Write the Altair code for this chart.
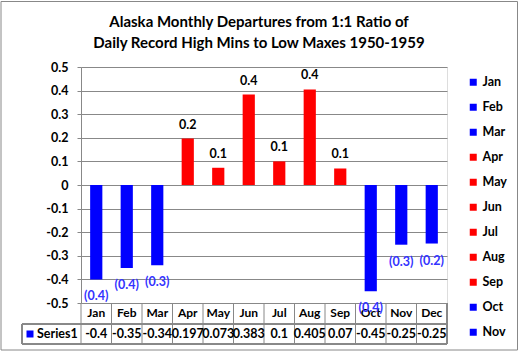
import altair as alt
import pandas as pd

months = ["Jan", "Feb", "Mar", "Apr", "May", "Jun", "Jul", "Aug", "Sep", "Oct", "Nov", "Dec"]
values = [-0.4, -0.352, -0.34, 0.197, 0.073, 0.383, 0.1, 0.405, 0.07, -0.45, -0.253, -0.248]
table_text = ["-0.4", "-0.35", "-0.34", "0.197", "0.073", "0.383", "0.1", "0.405", "0.07", "-0.45", "-0.25", "-0.25"]
bar_labels = ["(0.4)", "(0.4)", "(0.3)", "0.2", "0.1", "0.4", "0.1", "0.4", "0.1", "(0.4)", "(0.3)", "(0.2)"]
bar_colors = ["#0000FF", "#0000FF", "#0000FF", "#FF0000", "#FF0000", "#FF0000",
              "#FF0000", "#FF0000", "#FF0000", "#0000FF", "#0000FF", "#0000FF"]
y_ticks = [0.5, 0.4, 0.3, 0.2, 0.1, 0.0, -0.1, -0.2, -0.3, -0.4, -0.5]
series_name = "Series1"
title_lines = ["Alaska Monthly Departures from 1:1 Ratio of",
               "Daily Record High Mins to Low Maxes 1950-1959"]

df = pd.DataFrame({"month": months, "value": values, "tbl": table_text, "lab": bar_labels})

FONT = "Lato"
W, H = 366, 236
GRID = "#888888"

xs = alt.Scale(domain=months, paddingInner=0, paddingOuter=0)
ys = alt.Scale(domain=[-0.5, 0.5], nice=False)

base = alt.Chart(df)

bars = base.mark_bar(width={"band": 0.4}).encode(
    x=alt.X("month:N", scale=xs, sort=months,
            axis=alt.Axis(title=None, domain=False, ticks=False, labelAngle=0,
                          bandPosition=0.5, labelAlign="center", labelOverlap=False,
                          labelFont=FONT, labelFontWeight="bold", labelFontSize=12,
                          labelColor="black", labelPadding=4)),
    y=alt.Y("value:Q", scale=ys,
            axis=alt.Axis(title=None, values=y_ticks, tickCount=12, domainColor=GRID,
                          tickColor=GRID, gridColor=GRID, tickSize=4, labelFont=FONT,
                          labelFontWeight="bold", labelFontSize=12.5, labelColor="black",
                          labelPadding=9, labelOverlap=False,
                          labelExpr="toString(round(datum.value*10)/10)")),
    color=alt.Color("month:N", scale=alt.Scale(domain=months, range=bar_colors),
                    legend=alt.Legend(title=None, values=months[:11], orient="none",
                                      legendX=386, legendY=9, symbolType="square",
                                      symbolSize=49, symbolStrokeWidth=0,
                                      labelFont=FONT, labelFontWeight="bold", labelFontSize=12.5,
                                      labelColor="black", rowPadding=12, padding=0,
                                      labelOffset=3)),
)

pos_lab = base.transform_filter("datum.value >= 0").mark_text(
    font=FONT, fontWeight="bold", fontSize=12.5, color="black", dy=-14, baseline="middle"
).encode(x=alt.X("month:N", scale=xs, sort=months), y=alt.Y("value:Q", scale=ys), text="lab:N")

neg_lab = base.transform_filter("datum.value < 0").mark_text(
    font=FONT, fontWeight="bold", fontSize=12.5, color="#3333FF", dy=17, baseline="middle"
).encode(x=alt.X("month:N", scale=xs, sort=months), y=alt.Y("value:Q", scale=ys), text="lab:N")

# table lines
vlines = base.mark_rule(color=GRID, strokeWidth=1).encode(
    x=alt.X("month:N", scale=xs, sort=months, bandPosition=0),
    y=alt.value(H), y2=alt.value(H + 41))
right_line = base.mark_rule(color=GRID).encode(
    x=alt.value(W), y=alt.value(H), y2=alt.value(H + 41))
left_cell = base.mark_rule(color=GRID).encode(
    x=alt.value(-59), y=alt.value(H + 21), y2=alt.value(H + 41))
hline1 = base.mark_rule(color=GRID).encode(
    x=alt.value(-59), x2=alt.value(W), y=alt.value(H + 21))
hline2 = base.mark_rule(color=GRID).encode(
    x=alt.value(-59), x2=alt.value(W), y=alt.value(H + 41))

tbl_text = base.mark_text(font=FONT, fontWeight="bold", fontSize=12.5, color="black",
                          baseline="middle").encode(
    x=alt.X("month:N", scale=xs, sort=months), y=alt.value(H + 31), text="tbl:N")

series_df = pd.DataFrame({"name": [series_name]})
series_key = alt.Chart(series_df).mark_square(size=49, color="#0000FF", opacity=1).encode(
    x=alt.value(-51), y=alt.value(H + 31))
series_text = alt.Chart(series_df).mark_text(font=FONT, fontWeight="bold", fontSize=12.5,
                                             color="black", align="left",
                                             baseline="middle").encode(
    x=alt.value(-44), y=alt.value(H + 31), text="name:N")

title1 = alt.Chart(pd.DataFrame({"t": [title_lines[0]]})).mark_text(
    font=FONT, fontWeight="bold", fontSize=15, color="black", baseline="middle", align="center"
).encode(x=alt.value(178), y=alt.value(-45), text="t:N")
title2 = alt.Chart(pd.DataFrame({"t": [title_lines[1]]})).mark_text(
    font=FONT, fontWeight="bold", fontSize=15, color="black", baseline="middle", align="center"
).encode(x=alt.value(178), y=alt.value(-24), text="t:N")

border = alt.Chart(series_df).mark_rect(fill=None, stroke=GRID, strokeWidth=1).encode(
    x=alt.value(-80), x2=alt.value(436.5), y=alt.value(-65.5), y2=alt.value(283))

chart = alt.layer(
    bars, border, vlines, right_line, left_cell, hline1, hline2,
    pos_lab, neg_lab, tbl_text, series_key, series_text, title1, title2
).properties(
    width=W, height=H,
    padding={"left": 81, "top": 67, "right": 73, "bottom": 49},
    autosize=alt.AutoSizeParams(type="none"),
).configure_view(stroke=None).configure(background="white")

chart.save("out.html", embed_options={"renderer": "svg", "actions": False})
